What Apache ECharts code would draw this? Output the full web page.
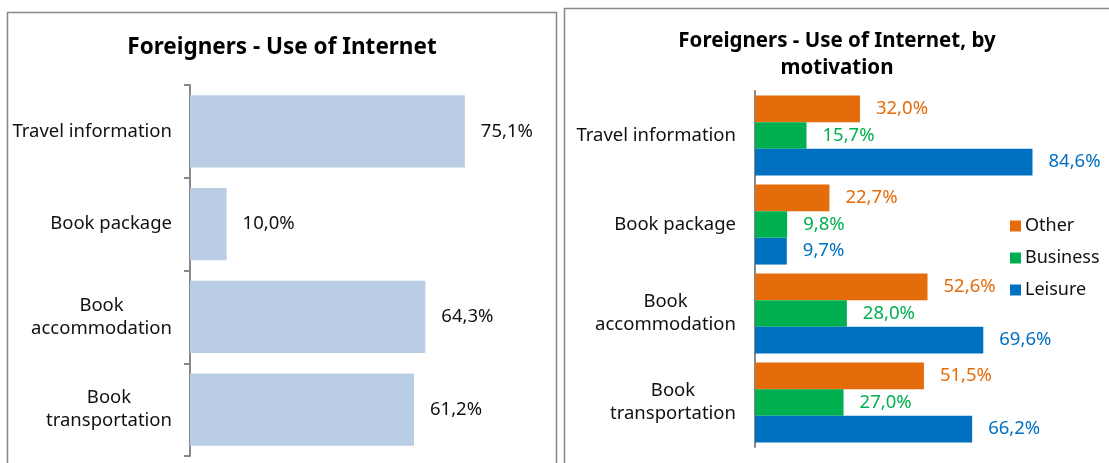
<!DOCTYPE html>
<html>
<head>
<meta charset="utf-8">
<title>Foreigners - Use of Internet</title>
<script src="https://cdn.jsdelivr.net/npm/echarts@6/dist/echarts.min.js"></script>
<style>
  html, body { margin: 0; padding: 0; background: #fff; }
  #main { width: 1109px; height: 463px; }
</style>
</head>
<body>
<div id="main"></div>
<script>
// data
var categories = ['Travel information', 'Book package', 'Book\naccommodation', 'Book\ntransportation'];
var totalUse = [75.1, 10.0, 64.3, 61.2];
var motivations = ['Other', 'Business', 'Leisure'];
var otherUse = [32.0, 22.7, 52.6, 51.5];
var businessUse = [15.7, 9.8, 28.0, 27.0];
var leisureUse = [84.6, 9.7, 69.6, 66.2];

var FONT = '"Noto Sans", sans-serif';
var colors = ['#E46C0A', '#00B050', '#0070C0'];

function pct(p) {
	return p.value.toFixed(1).replace('.', ',') + '%';
}

// centre the lines of a two-line label, block stays right-aligned
function catLabel(v) {
	return v.split('\n').map(function(s) { return '{c|' + s + '}'; }).join('\n');
}

var catAxisLabel = {
	fontFamily: FONT,
	fontSize: 18.5,
	color: '#111',
	align: 'right',
	formatter: catLabel,
	rich: {
		c: { fontFamily: FONT, fontSize: 18.5, color: '#111', align: 'center', lineHeight: 23 }
	}
};

function motivationSeries(i, data) {
	return {
		name: motivations[i],
		type: 'bar',
		xAxisIndex: 1,
		yAxisIndex: 1,
		data: data,
		barGap: '0%',
		barCategoryGap: '10%',
		itemStyle: { color: colors[i] },
		label: {
			show: true,
			position: 'right',
			distance: 16,
			formatter: pct,
			fontFamily: FONT,
			fontSize: 18.5,
			color: colors[i]
		}
	};
}

var myChart = echarts.init(document.getElementById('main'));
var option = {
	animation: false,
	backgroundColor: '#fff',
	graphic: [
		{ type: 'rect', shape: { x: 7.5, y: 12.5, width: 549, height: 520 }, style: { fill: 'none', stroke: '#888', lineWidth: 1.5 } },
		{ type: 'rect', shape: { x: 564.5, y: 8.5, width: 620, height: 520 }, style: { fill: 'none', stroke: '#888', lineWidth: 1.5 } },
		{ type: 'text', style: { x: 282, y: 48, text: 'Foreigners - Use of Internet', fontFamily: FONT, fontSize: 22.5, fontWeight: 'bold', fill: '#000', align: 'center', verticalAlign: 'middle' } },
		{ type: 'text', style: { x: 837, y: 41, text: 'Foreigners - Use of Internet, by', fontFamily: FONT, fontSize: 20.5, fontWeight: 'bold', fill: '#000', align: 'center', verticalAlign: 'middle' } },
		{ type: 'text', style: { x: 837, y: 68, text: 'motivation', fontFamily: FONT, fontSize: 20.5, fontWeight: 'bold', fill: '#000', align: 'center', verticalAlign: 'middle' } }
	],
	legend: {
		data: motivations,
		orient: 'vertical',
		left: 1010,
		top: 217,
		padding: 0,
		itemWidth: 11,
		itemHeight: 11,
		itemGap: 14,
		itemStyle: { borderWidth: 0 },
		icon: 'rect',
		textStyle: { fontFamily: FONT, fontSize: 18, color: '#111', padding: [0, 0, 0, -1] }
	},
	grid: [
		{ left: 190, top: 85, width: 366, height: 371 },
		{ left: 755, top: 91, width: 328, height: 356 }
	],
	xAxis: [
		{ gridIndex: 0, type: 'value', min: 0, max: 100, show: false },
		{ gridIndex: 1, type: 'value', min: 0, max: 100, show: false }
	],
	yAxis: [
		{
			gridIndex: 0, type: 'category', data: categories, inverse: true,
			axisLine: { lineStyle: { color: '#888', width: 2 } },
			axisTick: { show: true, length: 6, lineStyle: { color: '#888', width: 2 } },
			axisLabel: Object.assign({ margin: 18 }, catAxisLabel),
			splitLine: { show: false }
		},
		{
			gridIndex: 1, type: 'category', data: categories, inverse: true,
			axisLine: { lineStyle: { color: '#888', width: 2 } },
			axisTick: { show: false },
			axisLabel: Object.assign({ margin: 19 }, catAxisLabel),
			splitLine: { show: false }
		}
	],
	series: [
		{
			name: 'Total',
			type: 'bar',
			xAxisIndex: 0,
			yAxisIndex: 0,
			data: totalUse,
			barCategoryGap: '22%',
			itemStyle: { color: '#B9CDE5' },
			label: {
				show: true,
				position: 'right',
				distance: 16,
				formatter: pct,
				fontFamily: FONT,
				fontSize: 18.5,
				color: '#111'
			}
		},
		motivationSeries(0, otherUse),
		motivationSeries(1, businessUse),
		motivationSeries(2, leisureUse)
	]
};
myChart.setOption(option);
</script>
</body>
</html>
